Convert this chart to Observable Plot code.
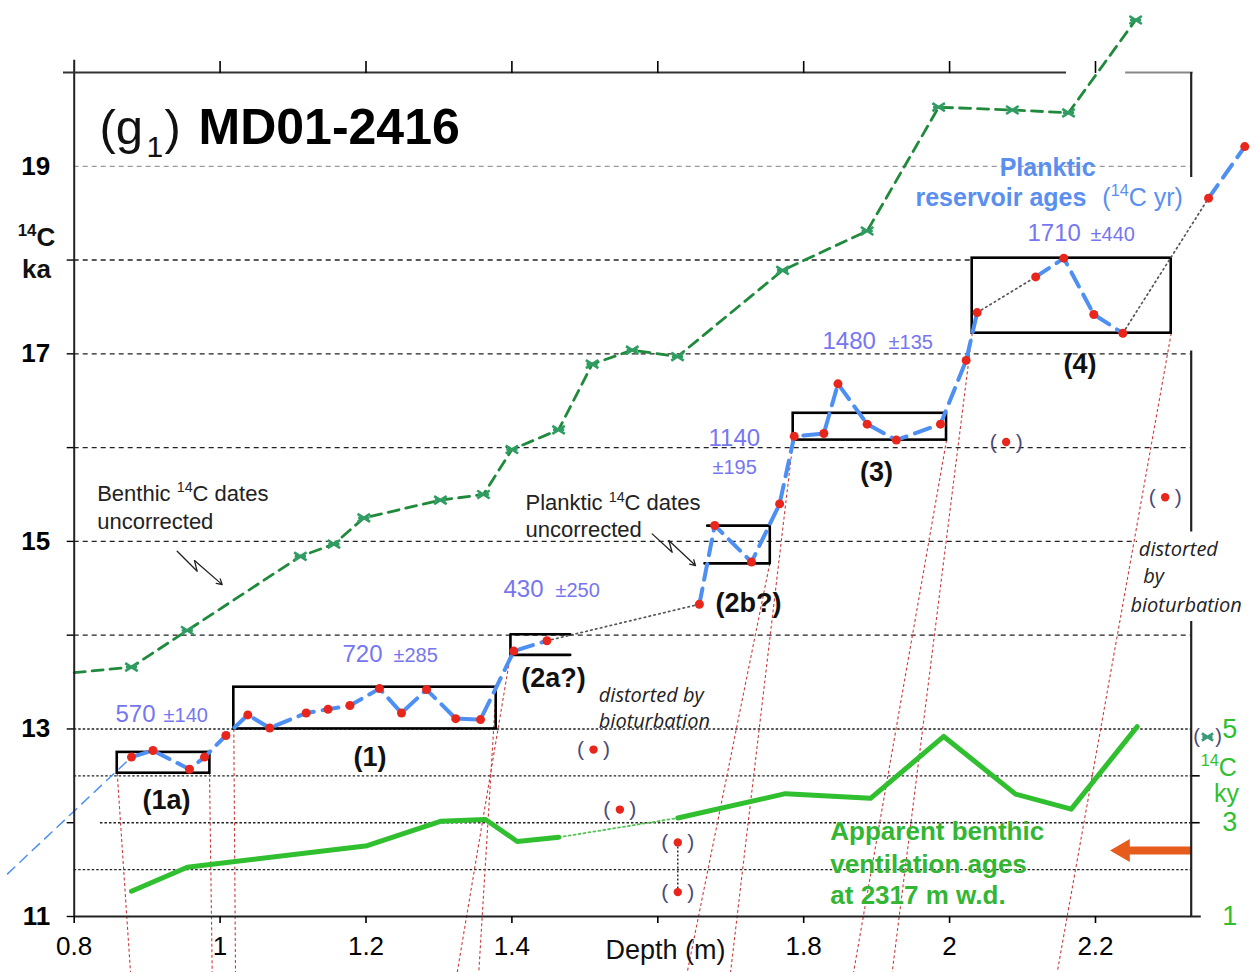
<!DOCTYPE html>
<html><head><meta charset="utf-8">
<script src="https://cdn.jsdelivr.net/npm/d3@7"></script>
<script src="https://cdn.jsdelivr.net/npm/@observablehq/plot@0.6"></script>
<style>html,body{margin:0;padding:0;background:#fff;overflow:hidden}</style>
</head><body><div id="chart"></div>
<script>
// ---------------- DATA ----------------
// Benthic 14C dates (uncorrected), depth (m) / 14C ka
const benthicDepth = [0.8, 0.8785, 0.955, 1.110, 1.156, 1.197, 1.302, 1.361, 1.400, 1.464, 1.510, 1.565, 1.627, 1.771, 1.887, 1.985, 2.086, 2.163, 2.255];
const benthicAge   = [13.60, 13.66, 14.05, 14.84, 14.97, 15.25, 15.44, 15.50, 15.98, 16.19, 16.89, 17.04, 16.97, 17.89, 18.31, 19.63, 19.60, 19.57, 20.56];

// Planktic 14C dates (uncorrected)
const planktDepth = [0.8785,0.908,0.958,0.9786,1.008,1.038,1.068,1.118,1.148,1.178,1.2185,1.2487,1.283,1.323,1.357,1.4026,1.448,1.657,1.678,1.7285,1.767,1.787,1.8276,1.847,1.887,1.927,1.9875,2.0227,2.0378,2.118,2.1566,2.1977,2.2375,2.355,2.4046];
const planktAge   = [12.70,12.77,12.57,12.70,12.93,13.15,13.01,13.17,13.21,13.25,13.43,13.17,13.42,13.11,13.10,13.83,13.94,14.33,15.17,14.78,15.40,16.12,16.15,16.68,16.25,16.08,16.25,16.93,17.44,17.82,18.02,17.42,17.22,18.66,19.21];
const planktSegRanges = [[0,16],[17,28],[29,32],[33,34]];   // dashed blue runs (indices)
const planktGapPairs  = [[16,17],[28,29],[32,33]];          // dotted grey joins (indices)
const planktLeadDepth = [0.7086, 0.8785];                   // thin dashed extension
const planktLeadAge   = [11.455, 12.70];

// Bioturbated planktic outliers "( • )"
const outlierDepth = [1.5119, 1.548, 1.6274, 1.6274, 2.0775, 2.2955];
const outlierAge   = [12.78, 12.14, 11.79, 11.26, 16.06, 15.47];
const outlierLinkPairs = [[2,3]];

// Apparent benthic ventilation ages (14C ky, right axis)
const ventDepth = [0.8785,0.955,1.2017,1.302,1.3638,1.4073,1.4643,1.6274,1.775,1.8916,1.992,2.0904,2.1667,2.2572];
const ventKy    = [1.54,2.05,2.51,3.03,3.07,2.60,2.69,3.10,3.62,3.52,4.84,3.61,3.29,5.05];
const ventSegRanges = [[0,6],[7,13]];
const ventGapPairs  = [[6,7]];
const kyToKa = ky => 11 + (ky - 1) / 2;

// Plateau boxes (1a), (1), (3), (4)
const boxLeft   = [0.859, 1.0188, 1.7856, 2.031];
const boxRight  = [0.986, 1.3785, 1.9958, 2.3038];
const boxBottom = [12.528, 13.0, 16.08, 17.22];
const boxTop    = [12.75, 13.445, 16.366, 18.02];
// open brackets (2a?), (2b?)
const bracket2aX = [1.480, 1.398, 1.398, 1.480], bracket2aY = [14.01, 14.01, 13.79, 13.79];
const bracket2bX = [1.6677, 1.7535, 1.7535, 1.664], bracket2bY = [15.168, 15.168, 14.766, 14.766];

// Red dotted correlation lines
const corrTopX    = [0.859, 0.9855, 1.0188, 1.3785, 1.3981, 1.7535, 1.7856, 1.9958, 2.031, 2.3038];
const corrTopY    = [12.528, 12.528, 13.0, 13.445, 13.793, 14.766, 16.08, 16.08, 17.22, 17.22];
const corrBottomX = [0.8772, 0.9892, 1.0211, 1.3546, 1.325, 1.6403, 1.6997, 1.8683, 1.9213, 2.1475];
const corrBottomY = 10.403;

// Grid lines
const gridGrayY = [19];
const gridDashedY = [18, 17, 16, 15, 14];
const gridDashedEnd = [2.031, 2.3312, 2.3312, 2.2576, 2.3312];
const gridDottedY = [13, 12.5, 12, 11.5];
const gridDottedStart = [0.8, 0.8, 0.836, 0.8];

// Axes
const xDomain = [0.8, 2.3312], yDomain = [11, 20];
const xTicks = [0.8, 1, 1.2, 1.4, 1.6, 1.8, 2, 2.2];
const xTickLabels = ["0.8", "1", "1.2", "1.4", "", "1.8", "2", "2.2"];
const yTickMarks = [11, 12, 13, 14, 15, 16, 17, 18];
const yTickLabels = [11, 13, 15, 17, 19];
const rightTickMarks = [12.5, 12];
const rightTickLabels = [13, 12, 11];
const rightAxisY1 = [20, 17.03, 14.145], rightAxisY2 = [18.88, 15.10, 11];

// Orange arrow
const arrowY = [11.704], arrowTail = 2.3312, arrowHead = 2.238;

// Reservoir-age labels
const resVal = ["570", "720", "430", "1140", "1480", "1710"];
const resValX = [0.8566, 1.1678, 1.3885, 1.6695, 1.8257, 2.1068];
const resValY = [13.071, 13.711, 14.404, 16.021, 17.052, 18.207];
const resErr = ["±140", "±285", "±250", "±195", "±135", "±440"];
const resErrX = [0.9225, 1.2377, 1.4597, 1.675, 1.9163, 2.1932];
const resErrY = [13.071, 13.711, 14.404, 15.720, 17.052, 18.207];

// Plateau labels
const plateauLabels = ["(1a)", "(1)", "(2a?)", "(2b?)", "(3)", "(4)"];
const plateauX = [0.9265, 1.2055, 1.457, 1.7244, 1.8998, 2.1788];
const plateauY = [12.237, 12.698, 13.543, 14.334, 15.737, 16.892];

// Squiggle arrows
const sqBenthicX = [0.9412, 0.9686, 0.9649, 1.0029], sqBenthicY = [14.895, 14.681, 14.795, 14.539];
const sqPlankX = [1.5923, 1.6197, 1.6151, 1.6517], sqPlankY = [15.080, 14.884, 15.009, 14.742];

// ---------------- STYLE ----------------
const FONT = "'Liberation Sans', Arial, Helvetica, sans-serif";
const ITALIC = "'Open Sans', 'Liberation Sans', sans-serif";
const BLUE = "#4d8ff2", LAV = "#7676f0", PBLUE = "#5a8ff0", DGREEN = "#1f8a3b", TEAL = "#2f9c62",
      LGREEN = "#2fbf2f", TGREEN = "#33b633", RED = "#e8261b", ORANGE = "#e65c1c";

// ---------------- DERIVED TABLES ----------------
const benthic = benthicDepth.map((x, i) => ({x, y: benthicAge[i]}));
const planktic = planktDepth.map((x, i) => ({x, y: planktAge[i]}));
const planktSegs = planktSegRanges.flatMap(([a, b], k) => planktic.slice(a, b + 1).map(p => ({...p, seg: k})));
const planktGaps = planktGapPairs.flatMap(([a, b], k) => [{...planktic[a], seg: k}, {...planktic[b], seg: k}]);
const outliers = outlierDepth.map((x, i) => ({x, y: outlierAge[i]}));
const outlierLinks = outlierLinkPairs.map(([a, b]) => ({x1: outliers[a].x, y1: outliers[a].y, x2: outliers[b].x, y2: outliers[b].y}));
const vent = ventDepth.map((x, i) => ({x, ky: ventKy[i]}));
const ventSegs = ventSegRanges.flatMap(([a, b], k) => vent.slice(a, b + 1).map(p => ({...p, seg: k})));
const ventGaps = ventGapPairs.flatMap(([a, b], k) => [{...vent[a], seg: k}, {...vent[b], seg: k}]);

const bowtie = {draw(ctx, size) {
  const r = Math.sqrt(size / Math.PI), w = r * 1.25, h = r * 0.8;
  ctx.moveTo(-w, -h); ctx.lineTo(w, h); ctx.moveTo(-w, h); ctx.lineTo(w, -h);
  ctx.moveTo(-w * 0.9, 0); ctx.lineTo(w * 0.9, 0);
}};

function labels(texts, xs, ys, o) {
  return Plot.text(texts.map((t, i) => ({t, x: xs[i], y: ys[i]})), {x: "x", y: "y", text: "t", fontFamily: FONT, ...o});
}

const chart = Plot.plot({
  width: 1257, height: 972,
  marginLeft: 73.7, marginRight: 66.3, marginTop: 72, marginBottom: 56,
  x: {domain: xDomain}, y: {domain: yDomain},
  style: {fontFamily: FONT, background: "white", overflow: "visible"},
  marks: [
    // grid
    Plot.ruleY(gridGrayY, {y: gridGrayY, x1: 0.8, x2: 2.3312, stroke: "#9a9a9a", strokeWidth: 1.3, strokeDasharray: "5,4"}),
    Plot.ruleY(gridDashedY, {y: gridDashedY, x1: 0.8, x2: gridDashedEnd, stroke: "#222", strokeWidth: 1.4, strokeDasharray: "5,4"}),
    Plot.ruleY(gridDottedY, {y: gridDottedY, x1: gridDottedStart, x2: 2.3312, stroke: "#222", strokeWidth: 1.4, strokeDasharray: "2.5,2"}),
    // correlation lines
    Plot.link(corrTopX, {x1: corrTopX, y1: corrTopY, x2: corrBottomX, y2: corrBottomY, stroke: "#cc3b3b", strokeWidth: 1.1, strokeDasharray: "3,2.5"}),
    // boxes
    Plot.rect(boxLeft, {x1: boxLeft, x2: boxRight, y1: boxBottom, y2: boxTop, fill: "none", stroke: "#000", strokeWidth: 2.6}),
    Plot.line(bracket2aX, {x: bracket2aX, y: bracket2aY, stroke: "#000", strokeWidth: 2.6}),
    Plot.line(bracket2bX, {x: bracket2bX, y: bracket2bY, stroke: "#000", strokeWidth: 2.6}),
    // benthic dates
    Plot.line(benthic, {x: "x", y: "y", stroke: DGREEN, strokeWidth: 2.8, strokeDasharray: "11,7"}),
    Plot.dot(benthic.slice(1), {x: "x", y: "y", symbol: bowtie, r: 5, stroke: TEAL, strokeWidth: 2.6, fill: "none"}),
    // ventilation ages
    Plot.line(ventGaps, {x: "x", y: d => kyToKa(d.ky), z: "seg", stroke: "#55c455", strokeWidth: 1.8, strokeDasharray: "2,3"}),
    Plot.line(ventSegs, {x: "x", y: d => kyToKa(d.ky), z: "seg", stroke: LGREEN, strokeWidth: 5, strokeLinejoin: "round"}),
    // planktic
    Plot.line(planktLeadDepth, {x: planktLeadDepth, y: planktLeadAge, stroke: BLUE, strokeWidth: 1.5, strokeDasharray: "10,7"}),
    Plot.line(planktGaps, {x: "x", y: "y", z: "seg", stroke: "#555", strokeWidth: 1.7, strokeDasharray: "1.5,3.5"}),
    Plot.line(planktSegs, {x: "x", y: "y", z: "seg", stroke: BLUE, strokeWidth: 4, strokeDasharray: "16,9"}),
    Plot.dot(planktic, {x: "x", y: "y", r: 4.5, fill: RED}),
    // outliers
    Plot.link(outlierLinks, {x1: "x1", y1: "y1", x2: "x2", y2: "y2", stroke: "#222", strokeWidth: 1.4, strokeDasharray: "2,2"}),
    Plot.dot(outliers, {x: "x", y: "y", r: 4.2, fill: RED}),
    Plot.text(outliers, {x: "x", y: "y", text: () => "(", dx: -13, fontSize: 21, fill: "#4a4a78", fontFamily: FONT}),
    Plot.text(outliers, {x: "x", y: "y", text: () => ")", dx: 13, fontSize: 21, fill: "#4a4a78", fontFamily: FONT}),
    // orange arrow
    Plot.link(arrowY, {x1: arrowTail, x2: arrowHead, y1: arrowY, y2: arrowY, stroke: ORANGE, strokeWidth: 8}),
    Plot.dot(arrowY, {x: arrowHead, y: arrowY, symbol: "triangle", r: 8.5, fill: ORANGE, rotate: -90}),
    // squiggle arrows
    Plot.line(sqBenthicX.slice(0, 3), {x: sqBenthicX.slice(0, 3), y: sqBenthicY.slice(0, 3), stroke: "#222", strokeWidth: 1.3}),
    Plot.arrow([0], {x1: sqBenthicX[2], y1: sqBenthicY[2], x2: sqBenthicX[3], y2: sqBenthicY[3], stroke: "#222", strokeWidth: 1.3, headLength: 7}),
    Plot.line(sqPlankX.slice(0, 3), {x: sqPlankX.slice(0, 3), y: sqPlankY.slice(0, 3), stroke: "#222", strokeWidth: 1.3}),
    Plot.arrow([0], {x1: sqPlankX[2], y1: sqPlankY[2], x2: sqPlankX[3], y2: sqPlankY[3], stroke: "#222", strokeWidth: 1.3, headLength: 7}),
    // frame
    Plot.ruleX([0.8], {y1: 11, y2: 20.13, stroke: "#222", strokeWidth: 2}),
    Plot.ruleY([11], {x1: 0.8, x2: 2.345, stroke: "#222", strokeWidth: 2.2}),
    Plot.ruleY([20], {x1: 0.7853, x2: 2.1603, stroke: "#333", strokeWidth: 2}),
    Plot.ruleY([20], {x1: 2.2413, x2: 2.3339, stroke: "#888", strokeWidth: 2}),
    Plot.ruleX(rightAxisY1, {x: 2.3312, y1: rightAxisY1, y2: rightAxisY2, stroke: "#222", strokeWidth: 2.2}),
    // axes
    Plot.axisX({anchor: "bottom", ticks: xTicks, tickSize: 7, tickPadding: 13, tickFormat: (d, i) => xTickLabels[i], fontSize: 26, label: null, strokeWidth: 1.6}),
    Plot.axisX({anchor: "top", ticks: xTicks.slice(1), tickSize: 12, tickFormat: () => "", label: null, strokeWidth: 1.6}),
    Plot.axisY({anchor: "left", ticks: yTickMarks, tickSize: 7, tickFormat: () => "", label: null, strokeWidth: 1.4}),
    Plot.axisY({anchor: "left", ticks: yTickLabels, tickSize: 0, tickPadding: 24, fontSize: 26, fontWeight: "bold", label: null}),
    Plot.axisY({anchor: "right", ticks: rightTickMarks, tickSize: 8, tickFormat: () => "", label: null, strokeWidth: 1.6}),
    Plot.axisY({anchor: "right", ticks: rightTickLabels, tickSize: 0, tickPadding: 31, tickFormat: d => String(1 + 2 * (d - 11)), fontSize: 27, color: LGREEN, fill: LGREEN, label: null}),
    // axis titles
    labels(["Depth (m)"], [1.6105], [10.549], {fontSize: 27, lineAnchor: "bottom", fill: "#111"}),
    labels(["¹⁴C", "ka"], [0.7483, 0.7483], [18.154, 17.812], {fontSize: 26, fontWeight: "bold", lineAnchor: "bottom", fill: "#111"}),
    labels(["¹⁴C"], [2.3689], [12.50], {fontSize: 25, lineAnchor: "bottom", fill: LGREEN}),
    labels(["ky"], [2.3797], [12.225], {fontSize: 25, lineAnchor: "bottom", fill: LGREEN}),
    Plot.dot([0], {x: 2.3535, y: 12.914, symbol: bowtie, r: 4.5, stroke: "#3a9a7a", strokeWidth: 2.6, fill: "none"}),
    labels(["("], [2.3535], [12.914], {fontSize: 20, fill: "#4a4a78", dx: -11}),
    labels([")"], [2.3535], [12.914], {fontSize: 20, fill: "#4a4a78", dx: 11}),
    // title
    labels(["(g"], [0.8347], [19.241], {fontSize: 49, textAnchor: "start", lineAnchor: "bottom", fill: "#111"}),
    labels(["1"], [0.8991], [19.095], {fontSize: 30, textAnchor: "start", lineAnchor: "bottom", fill: "#111"}),
    labels([")"], [0.9238], [19.241], {fontSize: 49, textAnchor: "start", lineAnchor: "bottom", fill: "#111"}),
    labels(["MD01-2416"], [0.9704], [19.241], {fontSize: 50, fontWeight: "bold", textAnchor: "start", lineAnchor: "bottom", fill: "#000"}),
    // planktic reservoir title
    labels(["Planktic"], [2.1344], [18.90], {fontSize: 25, fontWeight: "bold", lineAnchor: "bottom", fill: PBLUE}),
    labels(["reservoir ages"], [1.9532], [18.58], {fontSize: 25, fontWeight: "bold", textAnchor: "start", lineAnchor: "bottom", fill: PBLUE}),
    labels(["(¹⁴C yr)"], [2.2094], [18.58], {fontSize: 25, textAnchor: "start", lineAnchor: "bottom", fill: PBLUE}),
    // reservoir values
    labels(resVal, resValX, resValY, {fontSize: 24, textAnchor: "start", lineAnchor: "bottom", fill: LAV}),
    labels(resErr, resErrX, resErrY, {fontSize: 20, textAnchor: "start", lineAnchor: "bottom", fill: LAV}),
    // plateau labels
    labels(plateauLabels, plateauX, plateauY, {fontSize: 27, fontWeight: "bold", lineAnchor: "middle", fill: "#111"}),
    // annotations
    labels(["Benthic ¹⁴C dates", "uncorrected"], [0.8315, 0.8315], [15.435, 15.133], {fontSize: 22, textAnchor: "start", lineAnchor: "bottom", fill: "#222"}),
    labels(["Planktic ¹⁴C dates", "uncorrected"], [1.4187, 1.4187], [15.336, 15.051], {fontSize: 22, textAnchor: "start", lineAnchor: "bottom", fill: "#222"}),
    labels(["distorted by", "bioturbation"], [1.5191, 1.5191], [13.285, 13.012], {fontSize: 20, fontFamily: ITALIC, fontStyle: "italic", textAnchor: "start", lineAnchor: "bottom", fill: "#222"}),
    labels(["distorted", "by", "bioturbation"], [2.2594, 2.2654, 2.248], [14.849, 14.555, 14.244], {fontSize: 20, fontFamily: ITALIC, fontStyle: "italic", textAnchor: "start", lineAnchor: "bottom", fill: "#222"}),
    labels(["Apparent benthic", "ventilation ages", "at 2317 m w.d."], [1.8365, 1.8365, 1.8365], [11.812, 11.463, 11.132], {fontSize: 26, fontWeight: "bold", textAnchor: "start", lineAnchor: "bottom", fill: TGREEN})
  ]
});
document.getElementById("chart").appendChild(chart);

// turn ¹⁴ into real superscripts
const svg = d3.select(chart);
svg.selectAll("text").filter(function () { return this.textContent.includes("¹⁴"); }).each(function () {
  const t = this.textContent;
  const fs = parseFloat(getComputedStyle(this).fontSize) || 20;
  const [a, b] = t.split("¹⁴");
  const sel = d3.select(this);
  sel.text(null);
  if (a) sel.append("tspan").text(a);
  sel.append("tspan").attr("dy", -0.38 * fs).attr("font-size", fs * 0.65).text("14");
  sel.append("tspan").attr("dy", 0.38 * fs).text(b);
});
</script></body></html>
